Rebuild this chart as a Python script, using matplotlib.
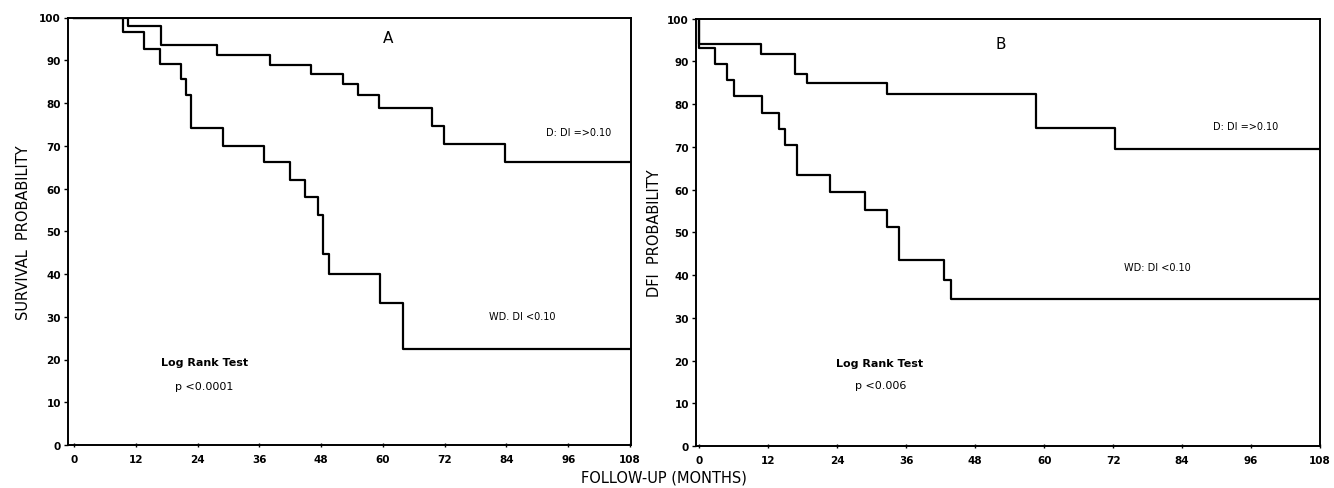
import matplotlib
matplotlib.use("Agg")
from matplotlib import pyplot as plt

# Panel A: overall survival
a_d_months = [0, 10.4, 16.8, 27.8, 38, 46, 52.2, 55.2, 59.3, 69.6, 71.8, 83.7]
a_d_surv = [100, 98, 93.5, 91.2, 88.9, 86.8, 84.4, 81.8, 78.8, 74.7, 70.5, 66.2]
a_wd_months = [0, 9.5, 13.5, 16.7, 20.7, 21.7, 22.7, 29, 36.9, 41.9, 44.9,
               47.3, 48.4, 49.5, 59.5, 63.8]
a_wd_surv = [100, 96.5, 92.7, 89.1, 85.5, 81.8, 74.1, 70.0, 66.1, 62.0, 58.0,
             53.7, 44.6, 40.0, 33.3, 22.4]

# Panel B: disease free interval
b_d_months = [0, 0, 10.7, 16.7, 18.7, 32.6, 58.5, 72.4]
b_d_surv = [100, 94.0, 91.7, 87.0, 84.9, 82.3, 74.5, 69.4]
b_wd_months = [0, 0, 2.7, 4.8, 6.0, 10.9, 13.9, 14.9, 16.9, 22.8, 28.8, 32.7,
               34.7, 42.6, 43.8]
b_wd_surv = [100, 93.0, 89.3, 85.7, 81.9, 78.0, 74.2, 70.5, 63.3, 59.4, 55.3,
             51.2, 43.4, 38.9, 34.4]

x_ticks = [0, 12, 24, 36, 48, 60, 72, 84, 96, 108]
y_ticks = [0, 10, 20, 30, 40, 50, 60, 70, 80, 90, 100]
end_month = 108


def km_curve(ax, months, surv):
    xs = months + [end_month]
    ys = surv + [surv[-1]]
    ax.step(xs, ys, where="post", color="black", lw=1.6)


def style_axes(ax, xlim):
    ax.set_xlim(*xlim)
    ax.set_ylim(0, 100)
    ax.set_xticks(x_ticks)
    ax.set_yticks(y_ticks)
    for s in ax.spines.values():
        s.set_linewidth(1.4)
    ax.tick_params(axis="y", direction="out", length=3, width=1, pad=2,
                   labelsize=7.5)
    ax.tick_params(axis="x", direction="inout", length=3, width=1, pad=5,
                   labelsize=7.5)
    for lab in ax.get_xticklabels() + ax.get_yticklabels():
        lab.set_fontweight("bold")


fig = plt.figure(figsize=(13.34, 4.89), dpi=100)

# Panel A
ax1 = fig.add_axes([68 / 1334, 1 - 446 / 489, (631 - 68) / 1334, (446 - 18.5) / 489])
km_curve(ax1, a_d_months, a_d_surv)
km_curve(ax1, a_wd_months, a_wd_surv)
style_axes(ax1, (-1.2, 108.2))
ax1.set_ylabel("SURVIVAL  PROBABILITY", fontsize=10.5, labelpad=6)
ax1.text(61, 95.4, "A", fontsize=11, ha="center", va="center")
ax1.text(98, 73.1, "D: DI =>0.10", fontsize=7, ha="center", va="center")
ax1.text(87, 30.1, "WD. DI <0.10", fontsize=7, ha="center", va="center")
ax1.text(25.3, 19.3, "Log Rank Test", fontsize=8, fontweight="bold",
         ha="center", va="center")
ax1.text(25.3, 13.7, "p <0.0001", fontsize=8, ha="center", va="center")

# Panel B
ax2 = fig.add_axes([696 / 1334, 1 - 447 / 489, (1320 - 696) / 1334, (447 - 19.5) / 489])
km_curve(ax2, b_d_months, b_d_surv)
km_curve(ax2, b_wd_months, b_wd_surv)
style_axes(ax2, (-0.6, 108))
ax2.set_ylabel("DFI  PROBABILITY", fontsize=10.5, labelpad=4)
ax2.text(52.5, 94.2, "B", fontsize=11, ha="center", va="center")
ax2.text(95, 74.8, "D: DI =>0.10", fontsize=7, ha="center", va="center")
ax2.text(79.7, 41.9, "WD: DI <0.10", fontsize=7, ha="center", va="center")
ax2.text(31.4, 19.5, "Log Rank Test", fontsize=8, fontweight="bold",
         ha="center", va="center")
ax2.text(31.6, 14.2, "p <0.006", fontsize=8, ha="center", va="center")

fig.text(664 / 1334, 1 - 478 / 489, "FOLLOW-UP (MONTHS)", fontsize=10.5,
         ha="center", va="center")

fig.savefig("out.png", dpi=100)
